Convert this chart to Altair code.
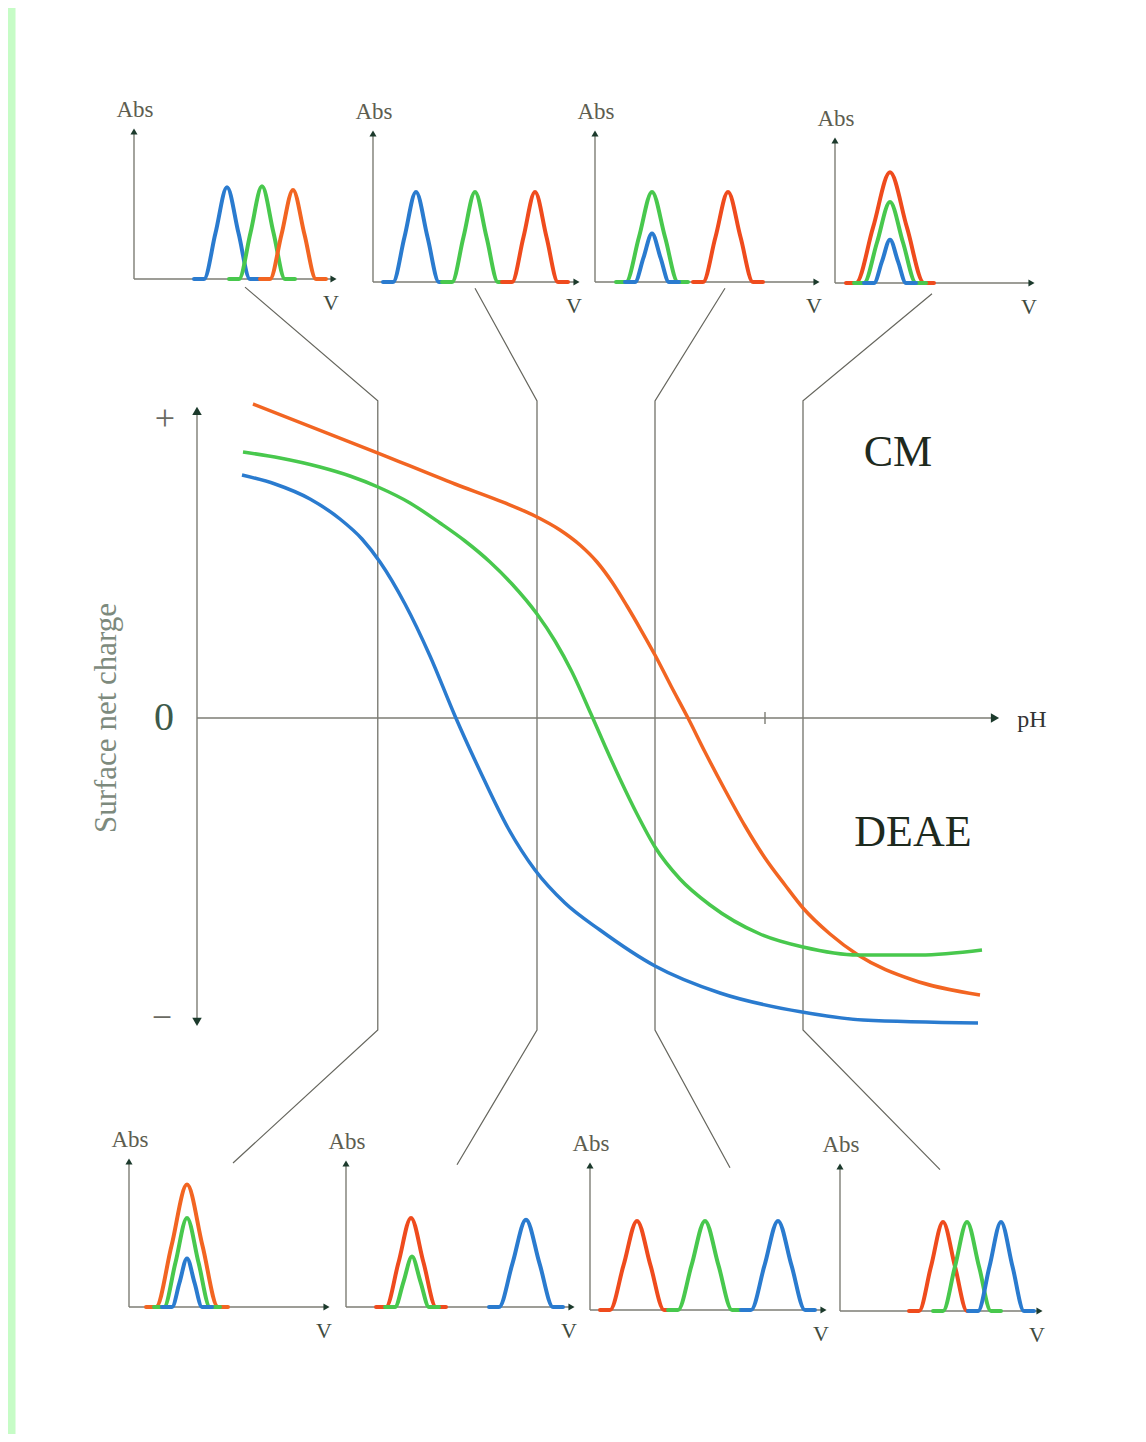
import altair as alt
import pandas as pd

# ---------------- main plot: surface net charge vs pH ----------------
PH_ORANGE = [0.70, 2.2625, 3.225, 3.85, 4.225, 4.5375, 4.7875, 5.0, 5.1875, 5.375, 5.55, 5.725, 5.925, 6.1375,
             6.35, 6.6, 6.85, 7.1, 7.35, 7.575, 7.9125, 8.2625, 8.95, 9.7875]
Q_ORANGE = [1.0467, 0.8833, 0.78, 0.7167, 0.6733, 0.6267, 0.5767, 0.52, 0.4533, 0.3733, 0.2933, 0.21, 0.1067, 0.0,
            -0.1133, -0.24, -0.36, -0.4667, -0.5567, -0.6333, -0.72, -0.79, -0.8733, -0.9233]
PH_GREEN = [0.575, 1.0375, 1.5375, 1.9125, 2.2625, 2.6625, 3.0375, 3.35, 3.6625, 3.9375, 4.25, 4.475, 4.6875, 4.925,
            5.1, 5.2875, 5.5, 5.725, 6.0375, 6.4125, 7.0375, 7.575, 8.2625, 9.0375, 9.8125]
Q_GREEN = [0.8867, 0.8667, 0.8367, 0.8067, 0.77, 0.7167, 0.65, 0.59, 0.52, 0.4467, 0.3467, 0.2567, 0.1533, 0.0133,
           -0.0933, -0.2033, -0.32, -0.43, -0.5367, -0.6233, -0.72, -0.7633, -0.79, -0.79, -0.7733]
PH_BLUE = [0.5625, 0.975, 1.4125, 1.7875, 2.0625, 2.2875, 2.6, 2.9125, 3.225, 3.5375, 3.8875, 4.225, 4.6, 5.0375,
           5.725, 6.5375, 7.5625, 8.325, 9.7625]
Q_BLUE = [0.81, 0.78, 0.73, 0.6633, 0.5967, 0.52, 0.38, 0.2067, 0.0067, -0.1767, -0.3667, -0.5067, -0.6167, -0.7067,
          -0.8267, -0.9167, -0.98, -1.0067, -1.0167]

SAMPLE_PH = [2.26, 4.25, 5.725, 7.575]          # pH of the four sampled separations
SAMPLE_Q_RANGE = (-1.04, 1.057)

COLORS = {"orange": "#f26522", "red": "#ef4b1d", "green": "#48c84d", "blue": "#2a7bcf"}

# ---------------- elution profiles: (series, centre V, peak Abs, half width V) ----------------
PEAKS_T1 = [("blue", 4.65, 1.02, 1.15), ("green", 6.4, 1.03, 1.15), ("orange", 7.95, 0.99, 1.15)]
PEAKS_T2 = [("blue", 2.15, 1.0, 1.15), ("green", 5.1, 1.0, 1.15), ("red", 8.1, 1.0, 1.15)]
PEAKS_T3 = [("green", 2.85, 1.0, 1.3), ("blue", 2.85, 0.54, 0.85), ("red", 6.65, 1.0, 1.25)]
PEAKS_T4 = [("red", 2.75, 1.23, 1.7), ("green", 2.75, 0.9, 1.3), ("blue", 2.75, 0.48, 0.8)]
PEAKS_B1 = [("orange", 2.9, 1.36, 1.55), ("green", 2.9, 0.99, 1.15), ("blue", 2.9, 0.54, 0.75)]
PEAKS_B2 = [("red", 3.25, 0.99, 1.25), ("green", 3.3, 0.56, 0.85), ("blue", 9.0, 0.97, 1.35)]
PEAKS_B3 = [("red", 2.35, 0.99, 1.35), ("green", 5.75, 0.99, 1.35), ("blue", 9.4, 0.99, 1.35)]
PEAKS_B4 = [("red", 5.15, 0.99, 1.2), ("green", 6.35, 0.99, 1.2), ("blue", 8.05, 0.99, 1.15)]
PEAK_TAIL = 0.5

# connector anchor points in panel units (V, Abs)
CONNECT_TOP = [(5.55, -0.09), (5.1, -0.07), (6.5, -0.07), (4.85, -0.12)]
CONNECT_BOTTOM = [(5.2, 1.6), (5.55, 1.58), (7.0, 1.58), (5.0, 1.57)]

# ---------------- layout (page pixels) ----------------
OFF = 8
W, H = 1146 - 2 * OFF, 1442 - 2 * OFF
MAIN = dict(x0=197, px_ph=80, y0=718, px_q=300)
V_PX, ABS_PX = 20, 90
PANELS = {
    "T1": dict(x0=134, y0=279, xlen=203, ylen=151, peaks=PEAKS_T1),
    "T2": dict(x0=373, y0=282, xlen=207, ylen=152, peaks=PEAKS_T2),
    "T3": dict(x0=595, y0=282, xlen=225, ylen=152, peaks=PEAKS_T3),
    "T4": dict(x0=835, y0=283, xlen=200, ylen=146, peaks=PEAKS_T4),
    "B1": dict(x0=129, y0=1307, xlen=201, ylen=149, peaks=PEAKS_B1),
    "B2": dict(x0=346, y0=1307, xlen=229, ylen=147, peaks=PEAKS_B2),
    "B3": dict(x0=590, y0=1310, xlen=237, ylen=148, peaks=PEAKS_B3),
    "B4": dict(x0=840, y0=1311, xlen=203, ylen=148, peaks=PEAKS_B4),
}


def main_xy(ph, q):
    return MAIN["x0"] + MAIN["px_ph"] * ph, MAIN["y0"] - MAIN["px_q"] * q


def panel_xy(p, v, a):
    return p["x0"] + V_PX * v, p["y0"] - ABS_PX * a


xs = alt.Scale(domain=[OFF, OFF + W], nice=False, zero=False)
ys = alt.Scale(domain=[OFF, OFF + H], nice=False, zero=False, reverse=True)
X = alt.X("x:Q", scale=xs, axis=None)
Y = alt.Y("y:Q", scale=ys, axis=None)
CSCALE = alt.Scale(domain=list(COLORS), range=list(COLORS.values()))

# main curves
crow = []
for s, phs, qs in [("orange", PH_ORANGE, Q_ORANGE), ("green", PH_GREEN, Q_GREEN), ("blue", PH_BLUE, Q_BLUE)]:
    for i, (p, q) in enumerate(zip(phs, qs)):
        x, y = main_xy(p, q)
        crow.append(dict(series=s, x=x, y=y, k=i))
curves = alt.Chart(pd.DataFrame(crow)).mark_line(strokeWidth=3.5, interpolate="monotone").encode(
    x=X, y=Y, color=alt.Color("series:N", scale=CSCALE, legend=None), detail="series:N", order="k:Q")

# peaks
prow = []
for name, p in PANELS.items():
    for j, (s, c, h, w) in enumerate(p["peaks"]):
        vs = [c - w - PEAK_TAIL, c - w, c - 0.5 * w, c, c + 0.5 * w, c + w, c + w + PEAK_TAIL]
        av = [0, 0, 0.5 * h, h, 0.5 * h, 0, 0]
        for k, (v, a) in enumerate(zip(vs, av)):
            x, y = panel_xy(p, v, a)
            prow.append(dict(pid=f"{name}-{j}", series=s, x=x, y=y, k=k))
peaks = alt.Chart(pd.DataFrame(prow)).mark_line(strokeWidth=4, strokeJoin="round", strokeCap="round",
                                                interpolate="monotone").encode(
    x=X, y=Y, color=alt.Color("series:N", scale=CSCALE, legend=None), detail="pid:N", order="k:Q")

# connectors + vertical sampling lines
lrow = []
tops = ["T1", "T2", "T3", "T4"]
bots = ["B1", "B2", "B3", "B4"]
for i, ph in enumerate(SAMPLE_PH):
    pts = [panel_xy(PANELS[tops[i]], *CONNECT_TOP[i]),
           main_xy(ph, SAMPLE_Q_RANGE[1]),
           main_xy(ph, SAMPLE_Q_RANGE[0]),
           panel_xy(PANELS[bots[i]], *CONNECT_BOTTOM[i])]
    for k, (x, y) in enumerate(pts):
        lrow.append(dict(lid=i, x=x, y=y, k=k))
links = alt.Chart(pd.DataFrame(lrow)).mark_line(strokeWidth=1.2, color="#66665e").encode(
    x=X, y=Y, detail="lid:N", order="k:Q")

# axes
rrow = []
ax0, ay0 = main_xy(0, -1.013)
ax1, ay1 = main_xy(0, 1.027)
rrow.append(dict(x=ax0, y=ay0, x2=ax1, y2=ay1))
bx0, by0 = main_xy(0, 0)
bx1, by1 = main_xy(9.975, 0)
rrow.append(dict(x=bx0, y=by0, x2=bx1, y2=by1))
tx0, ty0 = main_xy(7.1, 0.02)
tx1, ty1 = main_xy(7.1, -0.02)
rrow.append(dict(x=tx0, y=ty0, x2=tx1, y2=ty1))
for p in PANELS.values():
    rrow.append(dict(x=p["x0"], y=p["y0"], x2=p["x0"] + p["xlen"] - 3, y2=p["y0"]))
    rrow.append(dict(x=p["x0"], y=p["y0"], x2=p["x0"], y2=p["y0"] - p["ylen"] + 3))
axes = alt.Chart(pd.DataFrame(rrow)).mark_rule(strokeWidth=1.4, color="#7d7d74").encode(
    x=X, y=Y, x2="x2:Q", y2="y2:Q")

# green page strip
strip = alt.Chart(pd.DataFrame([dict(x=OFF, x2=15.5, y=OFF, y2=OFF + H)])).mark_rect(color="#c6fcc6").encode(
    x=X, y=Y, x2="x2:Q", y2="y2:Q")


# arrowheads
def arrows(rows, shape, size):
    return alt.Chart(pd.DataFrame(rows)).mark_point(shape=shape, filled=True, size=size, opacity=1,
                                                    color="#1c3a2c").encode(x=X, y=Y)


ups = arrows([dict(x=p["x0"], y=p["y0"] - p["ylen"] + 3.5) for p in PANELS.values()], "triangle-up", 50)
up_main = arrows([dict(x=ax1, y=ay1 + 1)], "triangle-up", 90)
down_main = arrows([dict(x=ax0, y=ay0)], "triangle-down", 90)
right_main = arrows([dict(x=bx1, y=by1)], "triangle-right", 90)
rights = arrows([dict(x=p["x0"] + p["xlen"] - 3.5, y=p["y0"]) for p in PANELS.values()], "triangle-right", 50)


# text
def text_layer(rows, size, color, angle=0):
    return alt.Chart(pd.DataFrame(rows)).mark_text(font="Liberation Serif", fontSize=size, color=color,
                                                   align="center", baseline="middle", angle=angle).encode(
        x=X, y=Y, text="t:N")


abs_rows = [dict(t="Abs", x=p["x0"] + 1, y=p["y0"] - p["ylen"] - 18) for p in PANELS.values()]
v_rows = [dict(t="V", x=p["x0"] + p["xlen"] - 6, y=p["y0"] + 24) for p in PANELS.values()]
texts = [
    text_layer(abs_rows, 23, "#5d5d50"),
    text_layer(v_rows, 22, "#3f4b3f"),
    text_layer([dict(t="Surface net charge", x=107, y=718)], 31, "#7d8a7d", 270),
    text_layer([dict(t="+", x=165, y=419), dict(t="\u2212", x=162, y=1018)], 36, "#6a6a62"),
    text_layer([dict(t="0", x=164, y=718)], 40, "#3d5a4a"),
    text_layer([dict(t="pH", x=1032, y=720)], 24, "#333333"),
    text_layer([dict(t="CM", x=898, y=453), dict(t="DEAE", x=913, y=833)], 44, "#1e2a1e"),
]

chart = alt.layer(strip, links, axes, curves, peaks, ups, up_main, down_main, right_main, rights,
                  *texts).properties(width=W, height=H, padding=0, autosize="none", background="white"
                                     ).configure_view(stroke=None)

chart.save("out.html", embed_options={"renderer": "svg", "actions": False})
